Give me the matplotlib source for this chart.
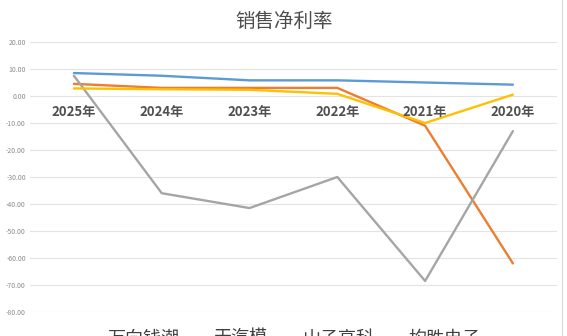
import matplotlib
matplotlib.use("Agg")
import matplotlib.pyplot as plt

plt.rcParams['font.family'] = ['Noto Sans CJK SC', 'DejaVu Sans']

categories = ["2025年", "2024年", "2023年", "2022年", "2021年", "2020年"]
series_names = ["万向钱潮", "天汽模", "山子高科", "均胜电子"]
wanxiang = [8.5, 7.5, 5.8, 5.8, 5.0, 4.2]
tianqimo = [4.5, 3.0, 3.0, 3.0, -11.0, -62.0]
shanzi = [7.5, -36.0, -41.5, -30.0, -68.5, -13.0]
junsheng = [2.8, 2.5, 2.3, 0.8, -10.0, 0.5]
yticks = [20, 10, 0, -10, -20, -30, -40, -50, -60, -70, -80]
colors = ["#5B9BD5", "#ED7D31", "#A5A5A5", "#FFC000"]

fig = plt.figure(figsize=(5.67, 3.36), dpi=100)
ax = fig.add_axes([0.053, 0.0714, 0.929, 0.8036])
x = list(range(len(categories)))
for vals, name, c in zip([wanxiang, tianqimo, shanzi, junsheng], series_names, colors):
    ax.plot(x, vals, color=c, lw=1.7, label=name, solid_capstyle='round')

ax.set_xlim(-0.5, len(categories) - 0.5)
ax.set_ylim(-80, 20)
ax.set_yticks(yticks)
ax.set_yticklabels([f"{v:.2f}" for v in yticks], fontsize=5, color="#8c8c8c")
ax.yaxis.set_tick_params(length=0, pad=3)
ax.set_xticks([])
ax.grid(axis='y', color="#e3e3e3", lw=0.8)
ax.set_axisbelow(True)
for s in ax.spines.values():
    s.set_visible(False)
for i, lab in enumerate(categories):
    ax.text(i, -3.2, lab, ha='center', va='top', fontsize=9.5, fontweight='bold', color="#505050")

fig.text(0.5, 0.935, "销售净利率", ha='center', va='center', fontsize=14, color="#4d4d4d")
fig.legend(loc='center', bbox_to_anchor=(0.495, -0.008), ncol=4, frameon=False, fontsize=13,
           handlelength=1.0, handletextpad=0.45, columnspacing=0.45, labelcolor="#404040")
# chart border line at right
fig.add_artist(plt.Line2D([0.992, 0.992], [0, 1], color="#d9d9d9", lw=0.8))
fig.savefig("out.png", dpi=100)
